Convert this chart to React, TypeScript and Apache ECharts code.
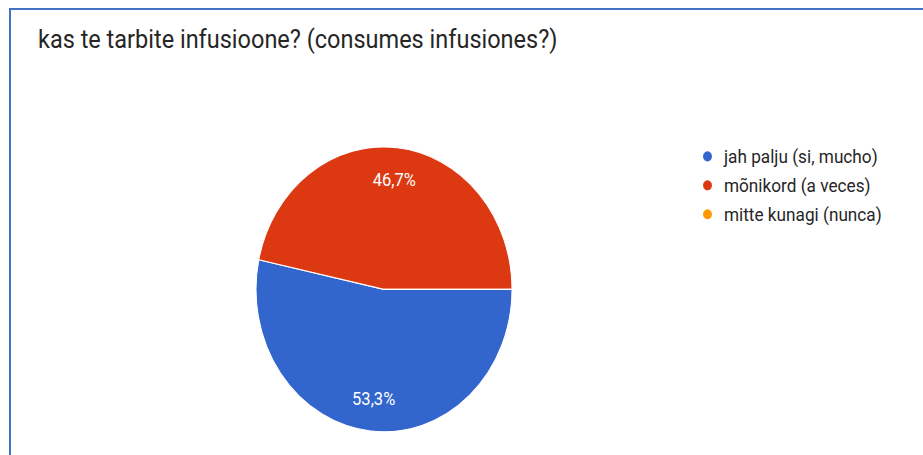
import React, { useEffect, useRef } from "react";
import * as echarts from "echarts";

const titleText = "kas te tarbite infusioone? (consumes infusiones?)";
const categories = ["jah palju (si, mucho)", "mõnikord (a veces)", "mitte kunagi (nunca)"];
const counts = [8, 7, 0];
const colors = ["#3366CC", "#DC3912", "#FF9900"];

const SY = 1.113;

export default function App() {
  const ref = useRef<HTMLDivElement>(null);
  useEffect(() => {
    if (!ref.current) return;
    const chart = echarts.init(ref.current, undefined, { renderer: "svg" });
    const data = categories.map((name, i) => ({
      name,
      value: counts[i],
      itemStyle: { color: colors[i] },
      label: { show: counts[i] > 0 },
    }));
    const fmt = (p: any) => p.percent.toFixed(1).replace(".", ",") + "%";
    chart.setOption({
      animation: false,
      backgroundColor: "#ffffff",
      title: {
        text: titleText,
        left: 38,
        top: 23.5,
        padding: 0,
        textStyle: { fontFamily: "Roboto", fontSize: 23.5, fontWeight: "normal", color: "#262626" },
      },
      legend: {
        orient: "vertical",
        left: 701,
        top: 132,
        padding: 0,
        itemWidth: 11,
        itemHeight: 11,
        itemGap: 9,
        icon: "circle",
        data: categories,
        textStyle: { fontFamily: "Roboto", fontSize: 17.2, color: "#262626", padding: [0, 0, 0, 6] },
      },
      series: [
        {
          type: "pie",
          center: [384, 260],
          radius: [0, 128],
          startAngle: 0,
          clockwise: true,
          avoidLabelOverlap: false,
          data: data.map((d) => ({ ...d, label: { show: false } })),
          label: { show: false },
          labelLine: { show: false },
          itemStyle: { borderColor: "#ffffff", borderWidth: 1 },
          silent: true,
        },
        {
          type: "pie",
          center: [384, 260],
          radius: [64, 128],
          startAngle: 0,
          clockwise: true,
          avoidLabelOverlap: false,
          data: data.map((d) => ({ ...d, itemStyle: { color: "rgba(0,0,0,0)" } })),
          label: {
            position: "inside",
            formatter: fmt,
            color: "#ffffff",
            fontFamily: "Roboto",
            fontSize: 16.5,
          },
          labelLine: { show: false },
          silent: true,
          legendHoverLink: false,
        },
      ],
    });
    return () => chart.dispose();
  }, []);
  return (
    <div style={{ position: "absolute", left: 0, top: 0, width: 923, height: 455, overflow: "hidden", background: "#fff" }}>
      <div
        ref={ref}
        style={{
          position: "absolute",
          left: 0,
          top: 0,
          width: 923,
          height: Math.round(455 / SY),
          transform: `scale(1, ${SY})`,
          transformOrigin: "0 0",
        }}
      />
      <div
        style={{
          position: "absolute",
          left: 9,
          top: 8,
          width: 930,
          height: 460,
          borderLeft: "2px solid #4472C4",
          borderTop: "2px solid #4472C4",
          pointerEvents: "none",
        }}
      />
    </div>
  );
}
